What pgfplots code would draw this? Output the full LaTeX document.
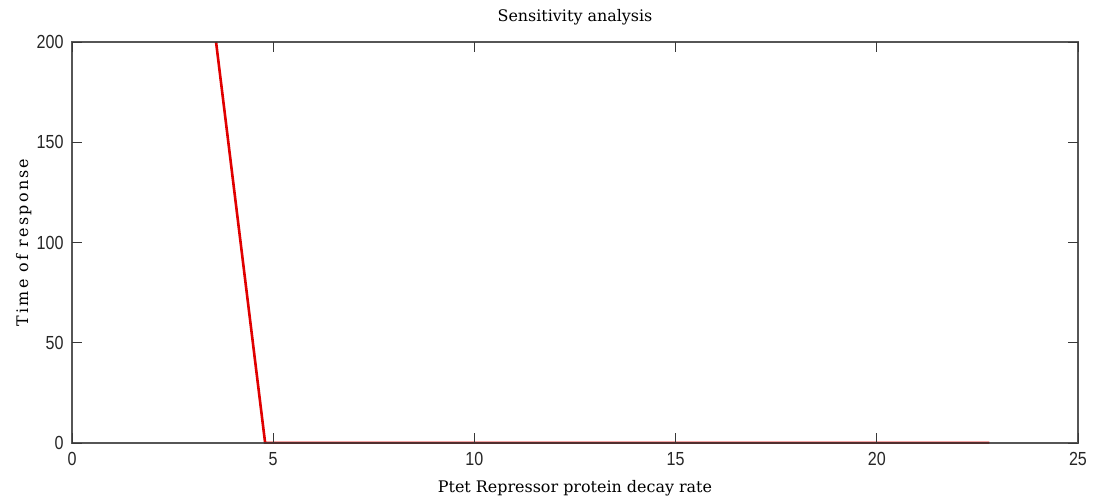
\documentclass[border=0pt]{standalone}
\usepackage{pgfplots}
\pgfplotsset{compat=1.18}
\usepackage{fontspec}
\setmainfont{DejaVu Serif}
\newfontfamily\tickfont[FakeStretch=0.85]{Liberation Sans}
\definecolor{axisgray}{HTML}{383838}
\definecolor{linered}{HTML}{E00000}
\begin{document}
\begin{tikzpicture}
\path[use as bounding box] (-72bp,-61bp) rectangle (1021bp,443bp);
\begin{axis}[
  at={(0,0)}, anchor=south west,
  scale only axis, width=1006bp, height=401bp,
  xmin=0, xmax=25, ymin=0, ymax=200,
  xtick={0,5,...,25}, ytick={0,50,...,200},
  tick align=inside, major tick length=10bp,
  tick style={axisgray, line width=0.8bp},
  axis line style={axisgray, line width=1.2bp, opacity=0.85},
  axis on top,
  /pgf/number format/assume math mode=true,
  tick label style={font=\fontsize{19}{19}\tickfont, text=black!85},
  xticklabel style={yshift=-6bp},
  yticklabel style={xshift=-5bp},
  xlabel={Ptet Repressor protein decay rate},
  ylabel={Time of response},
  title={Sensitivity analysis},
  label style={font=\fontsize{16}{16}\selectfont},
  title style={font=\fontsize{16}{16}\selectfont,
    at={(axis description cs:0.5,1.0374)}, anchor=base},
  xlabel style={at={(axis description cs:0.5,-0.1222)}, anchor=base},
  ylabel style={font=\fontsize{16}{16}\selectfont\addfontfeature{LetterSpace=14},
    at={(axis description cs:-0.0437,0.5)}, anchor=base},
]
\addplot[linered, line width=2.6bp] coordinates {(3.58,200) (4.8,0) (22.8,0)};
\end{axis}
\end{tikzpicture}
\end{document}
